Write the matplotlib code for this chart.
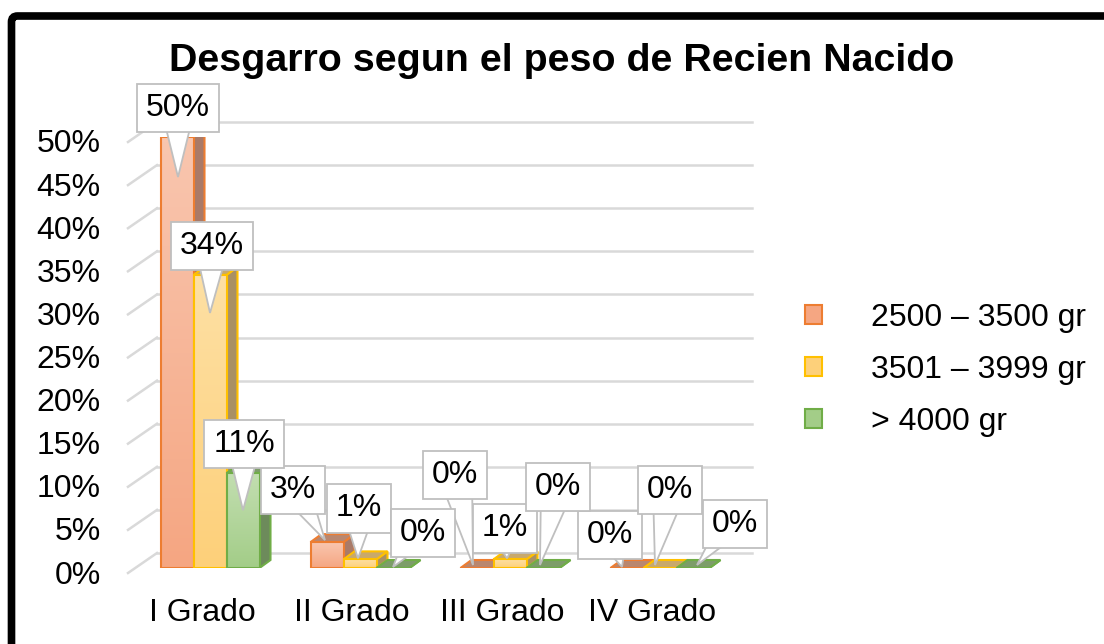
import numpy as np
import matplotlib
matplotlib.use("Agg")
import matplotlib.pyplot as plt
from matplotlib.patches import Polygon, Patch, FancyBboxPatch
from matplotlib.transforms import ScaledTranslation, IdentityTransform
from matplotlib.colors import LinearSegmentedColormap

plt.rcParams['font.family'] = ['Liberation Sans', 'DejaVu Sans']

# data
categories = ['I Grado', 'II Grado', 'III Grado', 'IV Grado']
series = ['2500 – 3500 gr', '3501 – 3999 gr', '> 4000 gr']
v_2500_3500 = [50, 3, 0, 0]
v_3501_3999 = [34, 1, 1, 0]
v_4000 = [11, 0, 0, 0]
values = [v_2500_3500, v_3501_3999, v_4000]

# styles
edge_cols = ['#ed7d31', '#ffc000', '#70ad47']
face_top = ['#f9c6af', '#fee0a4', '#c2deb0']
face_bot = ['#f5a682', '#fdd07a', '#a3cd88']
side_cols = ['#a97a68', '#a99064', '#6d8b5b']
topf_cols = ['#b9876f', '#c8a96c', '#7d9d69']

# label callouts: (tip dx, tip dy, box dx, box dy) in pixels, per series/category
lab_pos = [
    [(1, -40, 0, 69), (-2, 2, -32, 50), (-4, 3, -18, 90), (-5, 1, -12, 32)],
    [(0, -38, 2, 67), (-2, 1, 1, 50), (-3, 1, -2, 30), (-5, 3, 15, 75)],
    [(0, -37, 1, 66), (0, 1, 30, 34), (-3, 3, 18, 78), (4, 3, 38, 41)],
]

W, H, DPI = 1104, 644, 100
FS = 23
fig = plt.figure(figsize=(W / DPI, H / DPI), dpi=DPI)
ax = fig.add_axes([130 / W, (H - 568) / H, 595 / W, 431 / H])
xmin, xmax = -80 / 150, 515 / 150
ax.set_xlim(xmin, xmax)
ax.set_ylim(0, 50)
for s in ax.spines.values():
    s.set_visible(False)

px_x = 1 / 150          # data units per pixel
px_y = 50 / 431
bw = 0.22
DX, DY = 11 * px_x, 8 * px_y       # bar depth
WX, WY = 27 * px_x, 15 * px_y      # back wall offset
FX, FY = -2 * px_x, -5 * px_y      # front edge of side wall

# walls
grid_c = '#d9d9d9'
for t in range(0, 51, 5):
    ax.plot([xmin + WX, xmax + WX], [t + WY, t + WY], color=grid_c, lw=1.8,
            clip_on=False, zorder=1)
    ax.plot([xmin + FX, xmin + WX], [t + FY, t + WY], color=grid_c, lw=1.8,
            clip_on=False, zorder=1)

# bars
for i in range(len(categories)):
    for j in range(3):
        v = values[j][i]
        x0 = i + (j - 1) * bw - bw / 2
        x1 = x0 + bw
        z = 3 + j
        side = Polygon([[x1, 0], [x1 + DX, DY], [x1 + DX, v + DY], [x1, v]],
                       closed=True, fc=side_cols[j], ec=edge_cols[j], lw=1.5,
                       zorder=z)
        top = Polygon([[x0, v], [x0 + DX, v + DY], [x1 + DX, v + DY], [x1, v]],
                      closed=True, fc=topf_cols[j], ec=edge_cols[j], lw=1.5,
                      zorder=z)
        ax.add_patch(side)
        ax.add_patch(top)
        if v > 0:
            cm = LinearSegmentedColormap.from_list('g', [face_bot[j], face_top[j]])
            grad = np.linspace(0, 1, 64).reshape(-1, 1)
            im = ax.imshow(grad, extent=[x0, x1, 0, v], origin='lower',
                           cmap=cm, aspect='auto', zorder=z, interpolation='bilinear')
            front = Polygon([[x0, 0], [x1, 0], [x1, v], [x0, v]], closed=True,
                            fc='none', ec=edge_cols[j], lw=1.5, zorder=z + 0.1)
            ax.add_patch(front)
            im.set_clip_path(front)
        else:
            ax.plot([x0, x1], [0, 0], color=edge_cols[j], lw=1.5, zorder=z)

ax.set_xlim(xmin, xmax)
ax.set_ylim(0, 50)

# data labels (callouts)
lab_c = '#bfbfbf'
for j in range(3):
    for i in range(len(categories)):
        v = values[j][i]
        tdx, tdy, bdx, bdy = lab_pos[j][i]
        bx = i + (j - 1) * bw
        tx, ty = ax.transData.transform((bx, v))
        tx, ty = tx + tdx, ty + tdy
        cx, cy = tx + bdx, ty + bdy
        tri = Polygon([[tx, ty], [cx - 17, cy], [cx + 17, cy]], closed=True,
                      fc='white', ec=lab_c, lw=1.3, zorder=10,
                      transform=IdentityTransform(), clip_on=False)
        ax.add_patch(tri)
        ax.text(cx, cy, f'{v}%', transform=IdentityTransform(), ha='center',
                va='center', fontsize=FS, zorder=11,
                bbox=dict(boxstyle='square,pad=0.29', fc='white', ec=lab_c, lw=1.3))

# ticks
ax.set_yticks(range(0, 51, 5))
ax.set_yticklabels([f'{t}%' for t in range(0, 51, 5)], fontsize=FS)
ax.set_xticks(range(len(categories)))
ax.set_xticklabels(categories, fontsize=FS)
ax.tick_params(axis='y', length=0, pad=21)
ax.tick_params(axis='x', length=0, pad=21.5)
for lab in ax.get_yticklabels():
    lab.set_transform(lab.get_transform() + ScaledTranslation(0, -4 / DPI, fig.dpi_scale_trans))
for lab in ax.get_xticklabels():
    lab.set_transform(lab.get_transform() + ScaledTranslation(-8 / DPI, 0, fig.dpi_scale_trans))

# title
fig.text(562 / W, 1 - 61 / H, 'Desgarro segun el peso de Recien Nacido',
         ha='center', va='center', fontsize=28.4, fontweight='bold')

# legend
handles = [Patch(fc=face_bot[j], ec=edge_cols[j], lw=1.5) for j in range(3)]
fig.legend(handles, series, loc='center left',
           bbox_to_anchor=(805 / W, 1 - 370 / H), frameon=False, fontsize=FS,
           handlelength=0.53, handleheight=0.53, handletextpad=1.55,
           labelspacing=0.69, borderpad=0, borderaxespad=0)

# outer frame
frame = FancyBboxPatch((11.5 / DPI, -1), 12, 1 + (H - 16) / DPI,
                       boxstyle='round,pad=0,rounding_size=0.06',
                       transform=fig.dpi_scale_trans, fc='none', ec='black',
                       lw=5.5, clip_on=False)
fig.patches.append(frame)

fig.savefig('out.png', dpi=DPI)
